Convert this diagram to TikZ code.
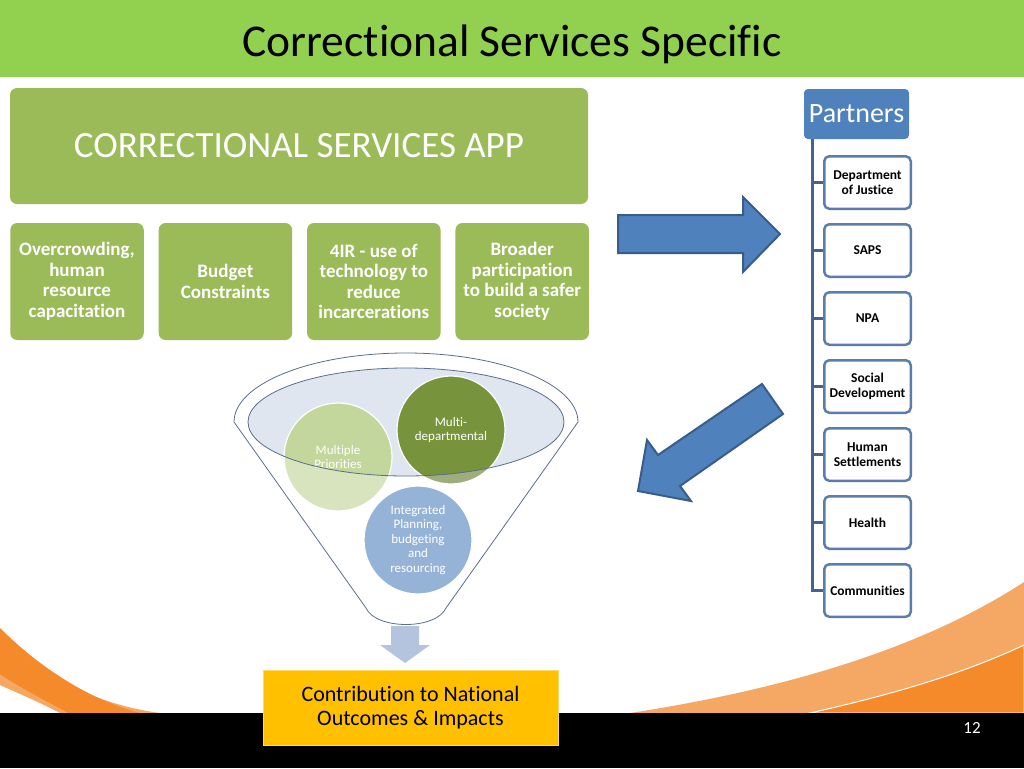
\documentclass[tikz,border=0pt]{standalone}
\usepackage{fontspec}
\setmainfont{Carlito}[Ligatures={NoCommon}]
\usetikzlibrary{positioning}

\definecolor{headgreen}{HTML}{92D050}
\definecolor{appgreen}{HTML}{9BBB59}
\definecolor{barblue}{HTML}{4F81BD}
\definecolor{arrowedge}{HTML}{385D8A}
\definecolor{boxedge}{HTML}{5A7DAB}
\definecolor{trunkblue}{HTML}{46658E}
\definecolor{funnelline}{HTML}{5B6E88}
\definecolor{funnelfill}{HTML}{DFE6F0}
\definecolor{prioGreen}{HTML}{C3D69B}
\definecolor{prioPale}{HTML}{D7E4BD}
\definecolor{multiGreen}{HTML}{77933C}
\definecolor{multiPale}{HTML}{9DAE7C}
\definecolor{integBlue}{HTML}{95B3D7}
\definecolor{downBlue}{HTML}{B4C4DE}
\definecolor{outYellow}{HTML}{FFC000}
\definecolor{swooshDark}{HTML}{F58A2A}
\definecolor{swooshLight}{HTML}{F5A864}

\tikzset{
  appbox/.style={fill=appgreen, rounded corners=7pt, text=white, align=center},
  issuebox/.style={appbox, minimum width=133.5pt, minimum height=117pt,
    font=\fontsize{19}{20.5}\selectfont\bfseries},
  partnerbox/.style={draw=boxedge, line width=2.5pt, rounded corners=5pt, fill=white,
    minimum width=86.5pt, minimum height=52.5pt, align=center,
    font=\fontsize{13.5}{15.5}\selectfont\bfseries},
  bubble/.style={circle, draw=white, line width=1.2pt, minimum size=108pt, text=white,
    align=center, font=\fontsize{13}{14.5}\selectfont},
  blockarrow/.style={fill=barblue, draw=arrowedge, line width=2pt, line join=miter},
  trunkline/.style={draw=trunkblue, line width=3pt}
}

\begin{document}
\begin{tikzpicture}[
    x=1pt, y=-1pt,
    node distance=14.5pt,
    every node/.style={inner sep=0pt}
  ]
  \useasboundingbox (0,0) rectangle (1024,768);
  \fill[white] (0,0) rectangle (1024,768);

  % Orange swooshes
  \fill[swooshLight] (0,640) .. controls (50,680) and (100,705) .. (160,713) -- (60,713) .. controls (35,700) and (15,692) .. (0,685) -- cycle;
  \fill[swooshDark] (0,628) .. controls (40,668) and (90,700) .. (140,713) -- (68,713) .. controls (45,700) and (20,688) .. (0,674) -- cycle;
  \fill[swooshLight] (630,713) .. controls (780,690) and (920,650) .. (1024,582) -- (1024,713) -- cycle;
  \fill[swooshDark, draw=white, line width=1pt] (810,713) .. controls (890,695) and (960,675) .. (1024,645) -- (1024,713) -- cycle;

  % Header band and footer bar
  \fill[headgreen] (0,0) rectangle (1024,77);
  \node[font=\fontsize{45.5}{50}\selectfont] (title) at (512,44) {Correctional Services Specific};
  \fill[black] (0,713) rectangle (1024,768);
  \node[text=white, font=\fontsize{17}{19}\selectfont] (pagenum) at (972,728) {12};

  % APP block and issues
  \node[appbox, minimum width=578pt, minimum height=116pt, font=\fontsize{37}{40}\selectfont] (app) at (299,146) {CORRECTIONAL SERVICES APP};
  \node[issuebox] (crowd) at (77,281.5) {Overcrowding,\\human\\resource\\capacitation};
  \node[issuebox, right=of crowd] (budget) {Budget\\Constraints};
  \node[issuebox, right=of budget] (tech) {4IR - use of\\technology to\\reduce\\incarcerations};
  \node[issuebox, right=of tech] (safer) {Broader\\participation\\to build a safer\\society};

  % Block arrows
  \draw[blockarrow] (618,215) -- (743,215) -- (743,197) -- (780,234) -- (743,272) -- (743,253) -- (618,253) -- cycle;
  \draw[blockarrow] (762,384) -- (783,414) -- (680,486) -- (691,501) -- (638,491) -- (647,440) -- (658,455) -- cycle;

  % Funnel
  \coordinate (ellc) at (406,422);
  \fill[downBlue] (391,626) -- (419,626) -- (419,645) -- (430,645) -- (405,663) -- (380,645) -- (391,645) -- cycle;
  \fill[white] (578,422) arc[start angle=0, end angle=-180, x radius=172, y radius=69]
    -- (366,608) .. controls (376,630) and (436,630) .. (446,608) -- cycle;
  \draw[funnelline, line width=0.8pt] (578,422) arc[start angle=0, end angle=-180, x radius=172, y radius=69]
    -- (366,608) .. controls (376,630) and (436,630) .. (446,608) -- cycle;
  \fill[funnelfill] (ellc) ellipse[x radius=158, y radius=54];
  \node[bubble, fill=prioPale, path picture={\fill[prioGreen] (ellc) ellipse[x radius=158pt, y radius=54pt];}] (prio) at (338,457) {Multiple\\Priorities};
  \node[bubble, fill=multiPale, path picture={\fill[multiGreen] (ellc) ellipse[x radius=158pt, y radius=54pt];}] (multi) at (451,430) {Multi-\\departmental};
  \node[bubble, fill=integBlue] (integ) at (418,540) {Integrated\\Planning,\\budgeting\\and\\resourcing};
  \draw[funnelline, line width=0.8pt] (ellc) ellipse[x radius=158, y radius=54];

  % Outcome box
  \node[fill=outYellow, draw=outYellow!60!white, minimum width=295pt, minimum height=75pt, align=center,
    font=\fontsize{22}{24}\selectfont] (outcome) at (410.5,707.5) {Contribution to National\\Outcomes \& Impacts};

  % Partners
  \node[fill=barblue, rounded corners=4pt, minimum width=105pt, minimum height=50pt, text=white,
    font=\fontsize{28}{30}\selectfont] (partners) at (856.5,114) {Partners};
  \node[partnerbox] (doj) at (867.5,182.5) {Department\\of Justice};
  \node[partnerbox, below=13pt of doj] (saps) {SAPS};
  \node[partnerbox, below=13pt of saps] (npa) {NPA};
  \node[partnerbox, below=13pt of npa] (social) {Social\\Development};
  \node[partnerbox, below=13pt of social] (human) {Human\\Settlements};
  \node[partnerbox, below=13pt of human] (health) {Health};
  \node[partnerbox, below=13pt of health] (comm) {Communities};

  \coordinate (trunk) at ([xshift=9pt]partners.south west);
  \draw[trunkline] (trunk) -- (trunk |- comm.west) -- (comm.west);
  \foreach \p in {doj,saps,npa,social,human,health}
    \draw[trunkline] (trunk |- \p.west) -- (\p.west);

\end{tikzpicture}
\end{document}
